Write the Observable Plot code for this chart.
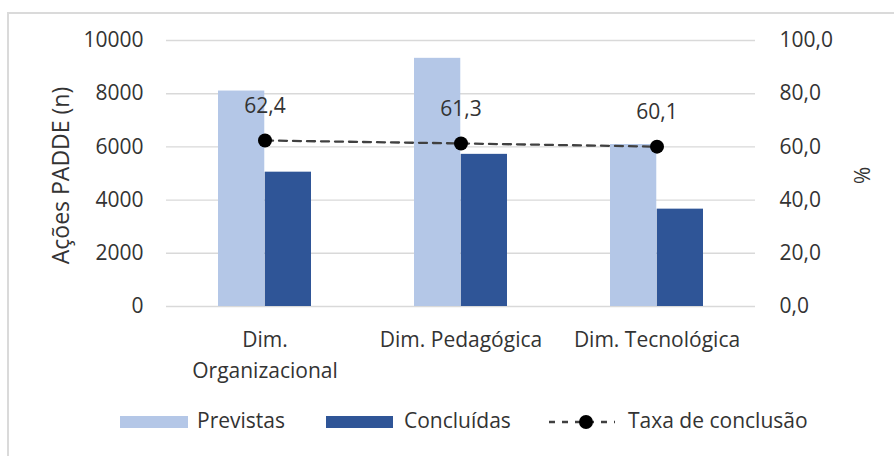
<!DOCTYPE html>
<html>
<head>
<meta charset="utf-8">
<script src="https://cdn.jsdelivr.net/npm/d3@7"></script>
<script src="https://cdn.jsdelivr.net/npm/@observablehq/plot@0.6"></script>
<style>
  body { margin: 0; background: #fff; font-family: "Open Sans", sans-serif; }
  #wrap { position: relative; width: 894px; height: 456px; overflow: hidden; }
  #frame { position: absolute; left: 7px; top: 12px; width: 1000px; height: 1000px;
           border-top: 2px solid #dadada; border-left: 2px solid #dadada; pointer-events: none; }
  #chart svg { display: block; }
  .leg { position: absolute; font-size: 21px; color: #333; line-height: 1; }
  .sw { position: absolute; height: 12px; }
</style>
</head>
<body>
<div id="wrap">
  <div id="frame"></div>
  <div id="chart"></div>
  <div id="legend"></div>
</div>
<script>
// ---- data ----
const categories = ["Dim. Organizacional", "Dim. Pedagógica", "Dim. Tecnológica"];
const categoryLabels = ["Dim.\nOrganizacional", "Dim. Pedagógica", "Dim. Tecnológica"];
const previstas = [8100, 9330, 6090];
const concluidas = [5050, 5720, 3660];
const taxa = [62.4, 61.3, 60.1];
const taxaLabels = ["62,4", "61,3", "60,1"];
const leftTicks = [0, 2000, 4000, 6000, 8000, 10000];
const rightTickLabels = ["0,0", "20,0", "40,0", "60,0", "80,0", "100,0"];
const seriesNames = ["Previstas", "Concluídas", "Taxa de conclusão"];
const colors = { previstas: "#b4c7e7", concluidas: "#2f5597", line: "#404040" };

// ---- layout ----
const W = 894, H = 395, mL = 166, mR = 139, mT = 40, mB = 89;
const pIn = 0.524, pOut = 0.262;
const step = (W - mL - mR) / (categories.length - pIn + 2 * pOut);
const half = step * (1 - pIn) / 2;
const rightMax = 100, leftMax = 10000, k = leftMax / rightMax;

const rows = categories.map((c, i) => ({
  cat: c, prev: previstas[i], conc: concluidas[i], taxa: taxa[i], lab: taxaLabels[i]
}));

const chart = Plot.plot({
  width: W, height: H,
  marginLeft: mL, marginRight: mR, marginTop: mT, marginBottom: mB,
  style: { fontFamily: "'Open Sans', sans-serif", fontSize: "21px", color: "#333", background: "transparent", overflow: "visible" },
  x: { type: "band", domain: categories, paddingInner: pIn, paddingOuter: pOut },
  y: { domain: [0, leftMax] },
  marks: [
    Plot.gridY(leftTicks, { stroke: "#d9d9d9", strokeOpacity: 1, strokeWidth: 1.4 }),
    Plot.barY(rows, { x: "cat", y: "prev", fill: colors.previstas, insetRight: half, insetLeft: 0 }),
    Plot.barY(rows, { x: "cat", y: "conc", fill: colors.concluidas, insetLeft: half, insetRight: 0 }),
    Plot.lineY(rows, { x: "cat", y: d => d.taxa * k, stroke: colors.line, strokeWidth: 2.3, strokeDasharray: "8,6" }),
    Plot.dot(rows, { x: "cat", y: d => d.taxa * k, r: 7, fill: "#000", stroke: "none" }),
    Plot.text(rows, { x: "cat", y: d => d.taxa * k, text: "lab", dy: -34, fill: "#333" }),
    Plot.axisY(leftTicks, { anchor: "left", tickSize: 0, tickPadding: 23, tickFormat: d => String(d), label: null }),
    Plot.axisY(leftTicks, { anchor: "right", tickSize: 0, tickPadding: 24,
      tickFormat: d => rightTickLabels[leftTicks.indexOf(d)], label: null }),
    Plot.axisX({ tickSize: 0, tickPadding: 19, lineHeight: 1.45, lineAnchor: "top",
      tickFormat: d => categoryLabels[categories.indexOf(d)], label: null }),
    Plot.text(["Ações PADDE (n)"], { frameAnchor: "left", textAnchor: "middle", rotate: -90, dx: -105, dy: 2, fontSize: 23, fill: "#333" }),
    Plot.text(["%"], { frameAnchor: "right", textAnchor: "middle", rotate: 90, dx: 105, dy: 2, fill: "#333" })
  ]
});
document.getElementById("chart").appendChild(chart);

// ---- legend ----
const leg = document.getElementById("legend");
leg.innerHTML = `
  <div class="sw" style="left:120px;top:416px;width:68px;background:${colors.previstas}"></div>
  <div class="leg" style="left:197px;top:410px">${seriesNames[0]}</div>
  <div class="sw" style="left:326px;top:416px;width:67px;background:${colors.concluidas}"></div>
  <div class="leg" style="left:404px;top:410px">${seriesNames[1]}</div>
  <svg style="position:absolute;left:546px;top:410px" width="72" height="24">
    <line x1="3" x2="69" y1="12" y2="12" stroke="${colors.line}" stroke-width="2.3" stroke-dasharray="6,7"></line>
    <circle cx="40" cy="12" r="7" fill="#000"></circle>
  </svg>
  <div class="leg" style="left:628px;top:410px">${seriesNames[2]}</div>
`;
</script>
</body>
</html>
